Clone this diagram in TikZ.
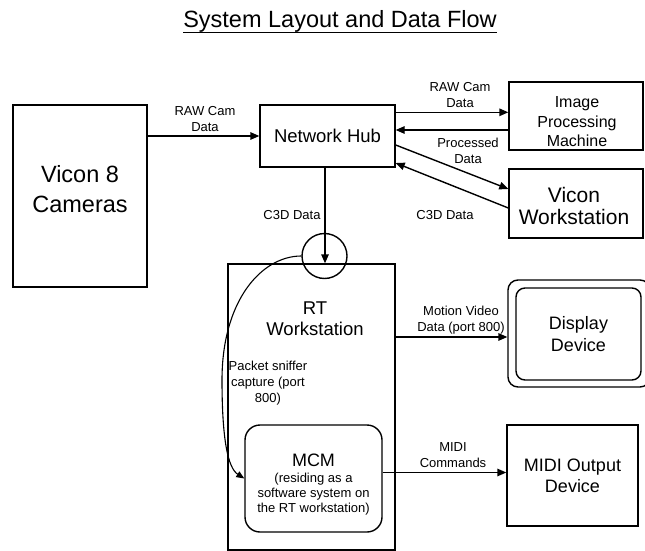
\documentclass[tikz,border=0pt]{standalone}
\usepackage{fontspec}
\setmainfont{Liberation Sans}
\usetikzlibrary{arrows.meta}
\begin{document}
\begin{tikzpicture}[x=1pt,y=-1pt,
  box/.style={draw, line width=1.4pt, inner sep=0pt, align=center},
  txt/.style={inner sep=0pt, align=center},
  lbl/.style={font=\fontsize{13}{16}\selectfont, align=center, inner sep=0pt},
  conn/.style={line width=1.4pt, -{Triangle[length=9pt,width=7.5pt]}},
  sniff/.style={line width=1.1pt, -{Triangle[length=8pt,width=6.5pt]}},
]
\useasboundingbox (0,0) rectangle (645,551);
% title
\node[font=\fontsize{23.5}{26}\selectfont, anchor=base, inner sep=0pt] (title) at (340,28) {System Layout and Data Flow};
\draw[line width=1.4pt] ([yshift=-4.5pt]title.base west) -- ([yshift=-4.5pt]title.base east);

% boxes
\node[box, minimum width=134pt, minimum height=182pt] (cam) at (80,196) {};
\node[txt, font=\fontsize{23.5}{30}\selectfont] (camtxt) at (80,189) {Vicon 8\\Cameras};
\node[box, minimum width=135pt, minimum height=62pt, font=\fontsize{18.5}{21}\selectfont] (hub) at (327.5,136) {Network Hub};
\node[box, minimum width=134pt, minimum height=68pt] (ipm) at (576,116) {};
\node[txt, font=\fontsize{16}{19.5}\selectfont] (ipmtxt) at (577,122) {Image\\Processing\\Machine};
\node[box, minimum width=134pt, minimum height=69pt] (vws) at (576,203.5) {};
\node[txt, font=\fontsize{21}{22}\selectfont] (vwstxt) at (574,206) {Vicon\\Workstation};
\node[box, minimum width=167pt, minimum height=286pt] (rt) at (311.5,407) {};
\node[txt, font=\fontsize{18.5}{21}\selectfont] (rttxt) at (315,319) {RT\\Workstation};
\node[draw, circle, line width=1.4pt, minimum size=45pt, inner sep=0pt] (circ) at (324.5,256) {};
\node[box, rounded corners=10pt, minimum width=142pt, minimum height=107pt] (dispout) at (579,333.5) {};
\node[box, rounded corners=9pt, minimum width=125pt, minimum height=92pt, font=\fontsize{18}{22}\selectfont] (disp) at (578.5,334) {Display\\Device};
\node[box, rounded corners=15pt, minimum width=137pt, minimum height=107pt] (mcm) at (313.5,478.5) {};
\node[txt, font=\fontsize{13}{15}\selectfont] (mcmtxt) at (313.5,485) {{\fontsize{18}{20}\selectfont MCM}\\[1pt](residing as a\\software system on\\the RT workstation)};
\node[box, minimum width=131pt, minimum height=101pt, font=\fontsize{18}{21}\selectfont] (midi) at (572.5,475.5) {MIDI Output\\Device};

% connectors
\draw[conn] (cam.east |- hub.west) -- (hub.west);
\draw[conn] ([yshift=-8pt]hub.north east) -- ([yshift=-8pt]hub.north east -| ipm.west);
\draw[conn] ([yshift=-14pt]ipm.west) -- ([yshift=-14pt]ipm.west -| hub.east);
\draw[conn] ([yshift=-9pt]hub.east) -- ([yshift=14.5pt]vws.west);
\draw[conn] ([yshift=-4.5pt]vws.west) -- ([yshift=-27pt]hub.east);
\draw[conn] ([xshift=-2.5pt]hub.south) -- ([xshift=-2.5pt]hub.south |- rt.north);
\draw[conn] ([yshift=-3.5pt]dispout.west -| rt.east) -- ([yshift=-3.5pt]dispout.west);
\draw[conn] ([yshift=6pt]mcm.east) -- ([yshift=6pt]mcm.east -| midi.west);
\draw[sniff] (circ.west) .. controls (262,256) and (222,300) .. (222,380) .. controls (222,440) and (228,468) .. (mcm.west);

% labels
\node[lbl] (l1) at (205,119) {RAW Cam\\Data};
\node[lbl] (l2) at (460,95) {RAW Cam\\Data};
\node[lbl] (l3) at (468,151) {Processed\\Data};
\node[lbl] (l4) at (445,215) {C3D Data};
\node[lbl] (l5) at (292,215) {C3D Data};
\node[lbl] (l6) at (461,320) {Motion Video\\Data (port 800)};
\node[lbl] (l7) at (453,455) {MIDI\\Commands};
\node[lbl] (l8) at (268,383) {Packet sniffer\\capture (port\\800)};
\end{tikzpicture}
\end{document}
